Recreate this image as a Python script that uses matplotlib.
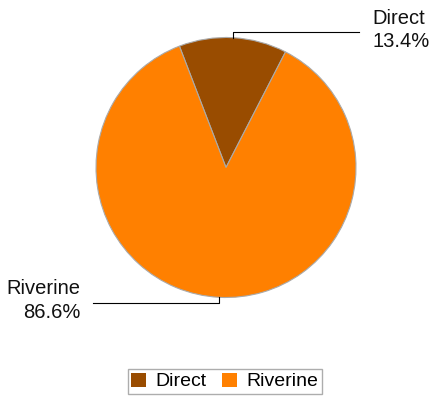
import numpy as np
import matplotlib
matplotlib.use("Agg")
import matplotlib.pyplot as plt
from matplotlib.patches import Patch

plt.rcParams['font.family'] = ['Liberation Sans', 'DejaVu Sans']

categories = ["Direct", "Riverine"]
values = [13.4, 86.6]
colors = ["#994C00", "#FF8000"]

W, H = 433, 396
fig = plt.figure(figsize=(W / 100, H / 100), dpi=100)
ax = fig.add_axes([0, 0, 1, 1])

cx, cy, r = 226, H - 167.5, 130
wedges, _ = ax.pie(values, colors=colors, startangle=111, counterclock=False,
                   center=(cx, cy), radius=r, frame=True,
                   wedgeprops=dict(edgecolor="#aaaaaa", linewidth=0.8))
ax.set_xlim(0, W)
ax.set_ylim(0, H)
ax.set_aspect('equal')
ax.axis('off')

# leader lines & labels
label_cfg = [
    # (y of horizontal segment, x end of horizontal, text x, text y, ha)
    (H - 32, 359, 372, H - 30, 'left'),
    (H - 303, 93, 80, H - 300.5, 'right'),
]
for w, cat, val, (ly, lx, tx, ty, ha) in zip(wedges, categories, values, label_cfg):
    ang = np.deg2rad((w.theta1 + w.theta2) / 2)
    px, py = cx + r * np.cos(ang), cy + r * np.sin(ang)
    ax.plot([px, px, lx], [py, ly, ly], color='black', lw=0.8)
    ax.text(tx, ty, f"{cat}\n{val:.1f}%", ha=ha, va='center', multialignment=ha,
            fontsize=14.5, color='#111111', linespacing=1.28)

handles = [Patch(facecolor=c, edgecolor='none') for c in colors]
leg = fig.legend(handles, categories, loc='center', bbox_to_anchor=(225 / W, 1 - 381.5 / H),
                 ncol=2, frameon=True, fancybox=False, edgecolor='#999999',
                 fontsize=14, handlelength=0.75, handleheight=0.75,
                 handletextpad=0.5, columnspacing=0.8, borderpad=0.2,
                 borderaxespad=0)
leg.get_frame().set_linewidth(1.0)

fig.savefig("out.png", dpi=100)
